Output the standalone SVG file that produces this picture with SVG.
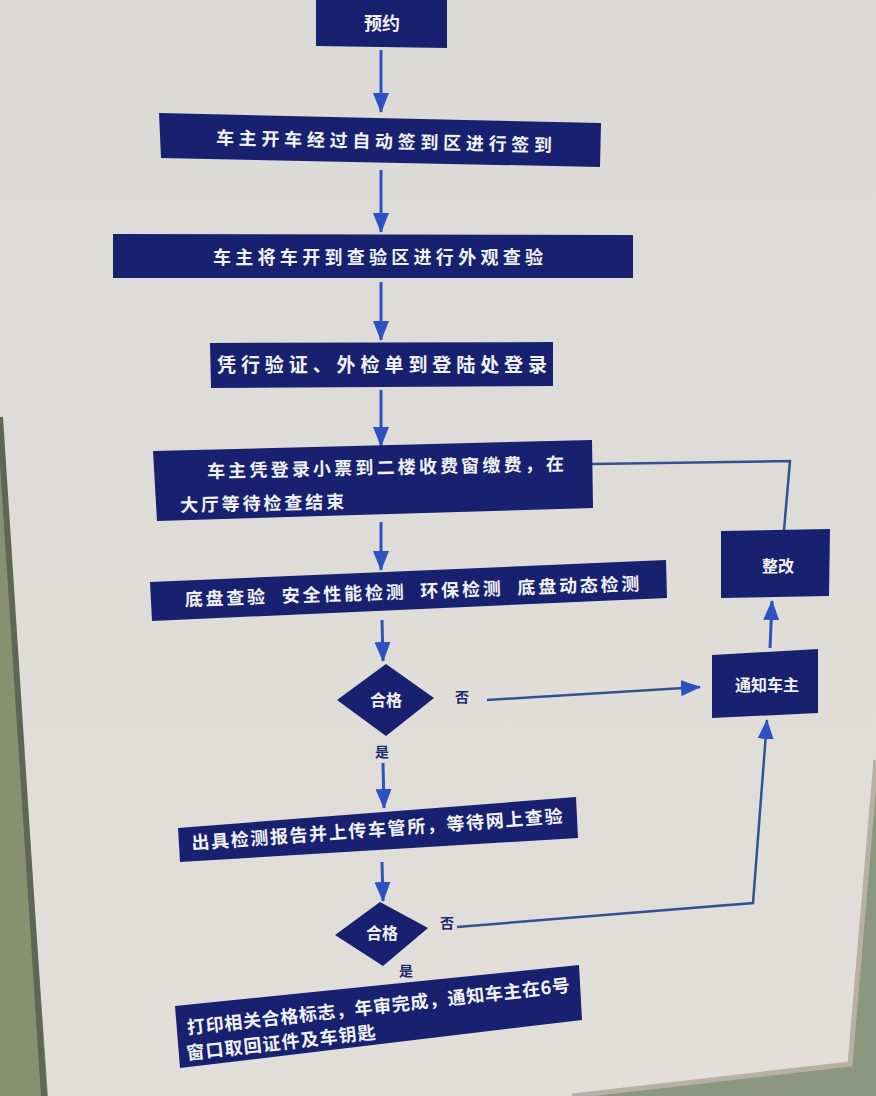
<svg xmlns="http://www.w3.org/2000/svg" width="876" height="1096" viewBox="0 0 876 1096">
<defs>
<linearGradient id="bg" x1="0" y1="0" x2="0" y2="1">
<stop offset="0" stop-color="#dcdad7"/>
<stop offset="1" stop-color="#e2dfda"/>
</linearGradient>
<marker id="ah" viewBox="0 0 20 16" refX="19" refY="8" markerWidth="20" markerHeight="16" markerUnits="userSpaceOnUse" orient="auto">
<path d="M0,0 L20,8 L0,16 z" fill="#2b52c0"/>
</marker>
<style>
.box{fill:#17216f}
.t{fill:#f1f1f4;font-family:"Noto Sans CJK SC","Noto Sans",sans-serif;font-weight:700;font-size:18px}
.ts{fill:#f1f1f4;font-family:"Noto Sans CJK SC","Noto Sans",sans-serif;font-weight:700;font-size:16px}
.lb{fill:#1c2a6e;font-family:"Noto Sans CJK SC","Noto Sans",sans-serif;font-weight:700;font-size:14px}
.arr{stroke:#2b52c0;stroke-width:3;fill:none}
.ln{stroke:#33518f;stroke-width:2.5;fill:none}
</style>
</defs>
<rect x="0" y="0" width="876" height="1096" fill="url(#bg)"/>
<!-- wall and frame -->
<polygon points="0,417 48,1096 0,1096" fill="#87916f"/>
<polyline points="0,417 44,1096" stroke="#5f6656" stroke-width="6" fill="none"/>
<polygon points="876,760 850,1064 572,1096 876,1096" fill="#8c977f"/>
<polyline points="876,760 850,1064 572,1096" stroke="#b8b1a3" stroke-width="5" fill="none"/>

<g id="connectors">
<line class="arr" x1="381" y1="50" x2="381" y2="112" marker-end="url(#ah)"/>
<line class="arr" x1="381" y1="170" x2="381" y2="232" marker-end="url(#ah)"/>
<line class="arr" x1="381" y1="282" x2="381" y2="340" marker-end="url(#ah)"/>
<line class="arr" x1="381" y1="390" x2="381" y2="446" marker-end="url(#ah)"/>
<line class="arr" x1="381" y1="522" x2="381" y2="570" marker-end="url(#ah)"/>
<line class="arr" x1="382" y1="620" x2="383" y2="661" marker-end="url(#ah)"/>
<line class="arr" x1="383" y1="763" x2="384" y2="808" marker-end="url(#ah)"/>
<line class="arr" x1="382" y1="862" x2="383" y2="901" marker-end="url(#ah)"/>
<line class="ln" x1="487" y1="700" x2="700" y2="687" marker-end="url(#ah)"/>
<polyline class="ln" points="457,927 753,903 767,720" marker-end="url(#ah)"/>
<line class="arr" x1="770" y1="648" x2="772" y2="601" marker-end="url(#ah)"/>
<polyline class="ln" points="784,530 790,461 592,464"/>
</g>

<g id="n1">
<polygon class="box" points="316,0 447,0 447,48 316,46"/>
<text class="t" x="382" y="30" text-anchor="middle">预约</text>
</g>
<g id="n2">
<polygon class="box" points="159,113 601,123 600,167 161,158"/>
<text class="t" x="384" y="148" text-anchor="middle" textLength="336" lengthAdjust="spacing" transform="rotate(1.3 384 142)">车主开车经过自动签到区进行签到</text>
</g>
<g id="n3">
<polygon class="box" points="113,234 633,235 633,278 113,278"/>
<text class="t" x="378" y="264" text-anchor="middle" textLength="330" lengthAdjust="spacing">车主将车开到查验区进行外观查验</text>
</g>
<g id="n4">
<polygon class="box" points="210,343 553,342 553,386 211,388"/>
<text class="t" x="382" y="372" text-anchor="middle" textLength="330" lengthAdjust="spacing" style="font-size:19px">凭行验证、外检单到登陆处登录</text>
</g>
<g id="n5">
<polygon class="box" points="153,451 592,440 593,508 157,521"/>
<text class="t" transform="rotate(-1.2 385 468)" x="207" y="474" textLength="357" lengthAdjust="spacing">车主凭登录小票到二楼收费窗缴费，在</text>
<text class="t" transform="rotate(-1.2 260 503)" x="180" y="510" textLength="164" lengthAdjust="spacing">大厅等待检查结束</text>
</g>
<g id="n6">
<polygon class="box" points="150,582 666,560 667,598 152,621"/>
<text class="t" transform="rotate(-2 412 591)" x="412" y="598" text-anchor="middle" textLength="455" lengthAdjust="spacing" xml:space="preserve">底盘查验  安全性能检测  环保检测  底盘动态检测</text>
</g>
<g id="d1">
<polygon class="box" points="386,664 434,698 386,736 337,700"/>
<text class="ts" x="386" y="706" text-anchor="middle">合格</text>
</g>
<g id="n7">
<polygon class="box" points="178,828 576,797 578,838 180,862"/>
<text class="t" transform="rotate(-4.2 377 830)" x="377" y="836" text-anchor="middle" textLength="372" lengthAdjust="spacing">出具检测报告并上传车管所，等待网上查验</text>
</g>
<g id="d2">
<polygon class="box" points="380,902 428,928 383,966 335,935"/>
<text class="ts" x="382" y="939" text-anchor="middle">合格</text>
</g>
<g id="n8">
<polygon class="box" points="175,1006 579,965 582,1020 180,1068"/>
<text class="t" transform="rotate(-6.4 378 1007)" x="186" y="1013" textLength="385" lengthAdjust="spacing">打印相关合格标志，年审完成，通知车主在6号</text>
<text class="t" transform="rotate(-6.4 282 1043)" x="186" y="1049" textLength="190" lengthAdjust="spacing">窗口取回证件及车钥匙</text>
</g>
<g id="n9">
<polygon class="box" points="721,531 830,529 829,596 721,598"/>
<text class="ts" x="778" y="572" text-anchor="middle">整改</text>
</g>
<g id="n10">
<polygon class="box" points="712,655 818,649 818,713 712,718"/>
<text class="ts" x="767" y="691" text-anchor="middle">通知车主</text>
</g>
<g id="labels">
<text class="lb" x="462" y="702" text-anchor="middle">否</text>
<text class="lb" x="382" y="757" text-anchor="middle">是</text>
<text class="lb" x="447" y="928" text-anchor="middle">否</text>
<text class="lb" x="406" y="976" text-anchor="middle">是</text>
</g>
</svg>
